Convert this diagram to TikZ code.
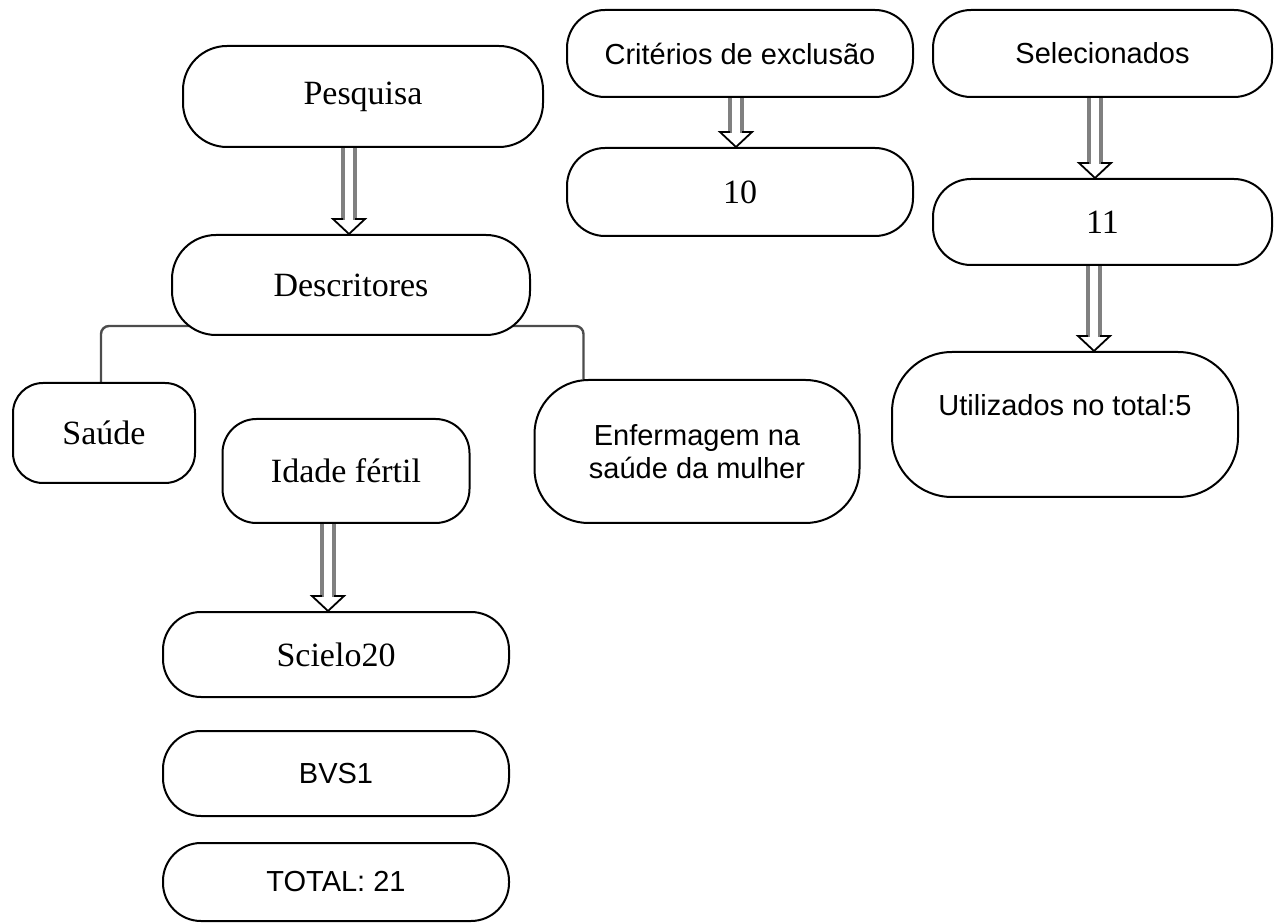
\documentclass[tikz,border=0pt]{standalone}
\usepackage{fontspec}
\setmainfont{Liberation Serif}
\setsansfont{Liberation Sans}
\usetikzlibrary{backgrounds}

\tikzset{
  caixa/.style={draw, line width=1pt, fill=white, rounded corners=19pt, inner sep=2pt, align=center},
  serifa/.style={font=\fontsize{17}{20}\selectfont},
  semserifa/.style={font=\sffamily\fontsize{14.5}{16.5}\selectfont},
  haste/.style={draw=gray, line width=2pt, double=white, double distance=4pt},
  ponta/.style={draw=black, line width=0.9pt, line join=miter},
  ramo/.style={draw=gray!60!black, line width=1.2pt, rounded corners=4pt}
}

% seta dupla: [deslocamento]{origem}{destino}
\newcommand{\seta}[3][0pt]{%
  \draw[haste] ([xshift=#1]#2.south) -- ([xshift=#1,yshift=7pt]#3.north -| #2.south);
  \draw[ponta] ([xshift=#1]#3.north -| #2.south) ++(-3pt,7.5pt) -- ++(-5pt,0) -- ++(8pt,-7.5pt) -- ++(8pt,7.5pt) -- ++(-5pt,0);
}

\begin{document}
\begin{tikzpicture}[x=0.5pt, y=-0.5pt]
  \useasboundingbox (0,0) rectangle (1274,924);
  % pesquisa e descritores
  \node[caixa, serifa, minimum width=180pt, minimum height=50.5pt, rounded corners=22pt] (pesq) at (363,96.5) {Pesquisa};
  \node[caixa, serifa, minimum width=179pt, minimum height=50pt, rounded corners=22pt] (desc) at (351,285) {Descritores};
  \node[caixa, serifa, minimum width=91pt, minimum height=50pt, rounded corners=15pt] (saude) at (104,433) {Saúde};
  \node[caixa, serifa, minimum width=123.5pt, minimum height=52pt, rounded corners=17pt] (idade) at (346,471) {Idade fértil};
  \node[caixa, semserifa, minimum width=162.5pt, minimum height=71.5pt, rounded corners=27pt] (enf) at (697,451.5) {Enfermagem na\\saúde da mulher};
  % bases
  \node[caixa, serifa, minimum width=173pt, minimum height=42.5pt] (scielo) at (336,654.5) {Scielo20};
  \node[caixa, semserifa, minimum width=173pt, minimum height=42.5pt] (bvs) at (336,773.5) {BVS1};
  \node[caixa, semserifa, minimum width=173pt, minimum height=39pt] (total) at (336,882) {TOTAL: 21};
  % exclusao
  \node[caixa, semserifa, minimum width=173pt, minimum height=43.5pt] (crit) at (740,53.5) {Critérios de exclusão};
  \node[caixa, serifa, minimum width=173pt, minimum height=44pt] (dez) at (740,192) {10};
  % selecionados
  \node[caixa, semserifa, minimum width=169.5pt, minimum height=43.5pt] (sel) at (1102.5,53.5) {Selecionados};
  \node[caixa, serifa, minimum width=169.5pt, minimum height=43pt] (onze) at (1102.5,222) {11};
  \node[caixa, semserifa, minimum width=173pt, minimum height=72.5pt, rounded corners=30pt] (util) at (1065,424.5) {Utilizados no total:5\\[3pt]\mbox{}};

  \begin{scope}[on background layer]
    % ramos dos descritores
    \draw[ramo] ([xshift=-1.5pt]saude.north) |- ([yshift=5pt]desc.south);
    \draw[ramo] ([xshift=25pt]enf.north west) |- ([yshift=5pt]desc.south);
    % setas
    \seta[-7pt]{pesq}{desc}
    \seta[-9pt]{idade}{scielo}
    \seta[-2pt]{crit}{dez}
    \seta[-3.75pt]{sel}{onze}
    \seta[-4.25pt]{onze}{util}
  \end{scope}
\end{tikzpicture}
\end{document}
